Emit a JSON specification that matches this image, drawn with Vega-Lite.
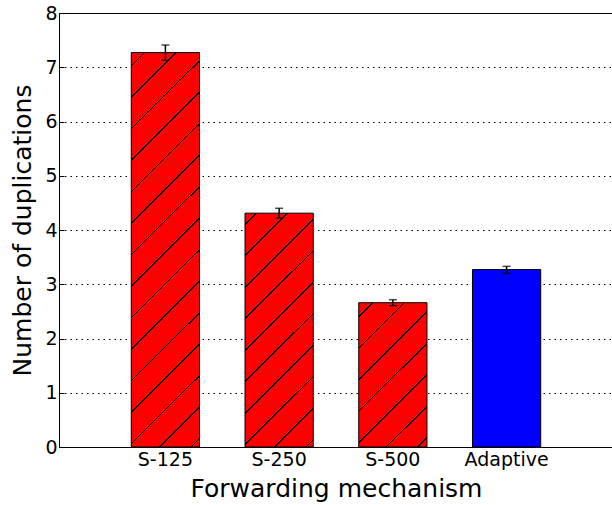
{
  "$schema": "https://vega.github.io/schema/vega-lite/v6.json",
  "width": 554,
  "height": 434,
  "autosize": {"type": "none"},
  "padding": {"left": 59, "top": 13, "right": 0, "bottom": 58},
  "background": "white",
  "config": {
    "font": "DejaVu Sans",
    "view": {"stroke": "black", "strokeWidth": 1},
    "axis": {
      "labelFont": "DejaVu Sans",
      "titleFont": "DejaVu Sans",
      "labelFontSize": 19,
      "titleFontSize": 25,
      "titleFontWeight": "normal",
      "labelColor": "black",
      "titleColor": "black",
      "domain": false,
      "tickColor": "black",
      "tickSize": -5,
      "tickWidth": 1
    }
  },
  "data": {
    "values": [
      {"mechanism": "S-125", "duplications": 7.27, "low": 7.13, "high": 7.41},
      {"mechanism": "S-250", "duplications": 4.31, "low": 4.22, "high": 4.4},
      {"mechanism": "S-500", "duplications": 2.66, "low": 2.605, "high": 2.715},
      {"mechanism": "Adaptive", "duplications": 3.27, "low": 3.2, "high": 3.33}
    ]
  },
  "encoding": {
    "x": {
      "field": "mechanism",
      "type": "nominal",
      "sort": ["S-125", "S-250", "S-500", "Adaptive"],
      "scale": {"paddingInner": 0.4, "paddingOuter": 0.6355},
      "title": "Forwarding mechanism",
      "axis": {"labelAngle": 0, "labelPadding": 8, "titlePadding": 7, "grid": false}
    },
    "y": {
      "field": "duplications",
      "type": "quantitative",
      "scale": {"domain": [0, 8], "nice": false},
      "title": "Number of duplications",
      "axis": {
        "values": [0, 1, 2, 3, 4, 5, 6, 7, 8],
        "grid": true,
        "gridColor": "black",
        "gridDash": [1.5, 4],
        "gridWidth": 1,
        "labelPadding": 7,
        "titlePadding": 9
      }
    }
  },
  "layer": [
    {
      "transform": [{"filter": "datum.mechanism === 'S-125'"}],
      "mark": {
        "type": "bar",
        "stroke": "black",
        "strokeWidth": 1,
        "fill": {
          "gradient": "linear",
          "x1": 0, "y1": 0, "x2": 0.1963, "y2": 1.1386,
          "stops": [
            {"offset": 0, "color": "#ff0000"},
            {"offset": 0.0262, "color": "#ff0000"}, {"offset": 0.0262, "color": "#000000"}, {"offset": 0.03, "color": "#000000"}, {"offset": 0.03, "color": "#ff0000"},
            {"offset": 0.0943, "color": "#ff0000"}, {"offset": 0.0943, "color": "#000000"}, {"offset": 0.0981, "color": "#000000"}, {"offset": 0.0981, "color": "#ff0000"},
            {"offset": 0.1625, "color": "#ff0000"}, {"offset": 0.1625, "color": "#000000"}, {"offset": 0.1663, "color": "#000000"}, {"offset": 0.1663, "color": "#ff0000"},
            {"offset": 0.2306, "color": "#ff0000"}, {"offset": 0.2306, "color": "#000000"}, {"offset": 0.2344, "color": "#000000"}, {"offset": 0.2344, "color": "#ff0000"},
            {"offset": 0.2987, "color": "#ff0000"}, {"offset": 0.2987, "color": "#000000"}, {"offset": 0.3025, "color": "#000000"}, {"offset": 0.3025, "color": "#ff0000"},
            {"offset": 0.3668, "color": "#ff0000"}, {"offset": 0.3668, "color": "#000000"}, {"offset": 0.3706, "color": "#000000"}, {"offset": 0.3706, "color": "#ff0000"},
            {"offset": 0.435, "color": "#ff0000"}, {"offset": 0.435, "color": "#000000"}, {"offset": 0.4388, "color": "#000000"}, {"offset": 0.4388, "color": "#ff0000"},
            {"offset": 0.5031, "color": "#ff0000"}, {"offset": 0.5031, "color": "#000000"}, {"offset": 0.5069, "color": "#000000"}, {"offset": 0.5069, "color": "#ff0000"},
            {"offset": 0.5712, "color": "#ff0000"}, {"offset": 0.5712, "color": "#000000"}, {"offset": 0.575, "color": "#000000"}, {"offset": 0.575, "color": "#ff0000"},
            {"offset": 0.6393, "color": "#ff0000"}, {"offset": 0.6393, "color": "#000000"}, {"offset": 0.6431, "color": "#000000"}, {"offset": 0.6431, "color": "#ff0000"},
            {"offset": 0.7075, "color": "#ff0000"}, {"offset": 0.7075, "color": "#000000"}, {"offset": 0.7113, "color": "#000000"}, {"offset": 0.7113, "color": "#ff0000"},
            {"offset": 0.7756, "color": "#ff0000"}, {"offset": 0.7756, "color": "#000000"}, {"offset": 0.7794, "color": "#000000"}, {"offset": 0.7794, "color": "#ff0000"},
            {"offset": 0.8437, "color": "#ff0000"}, {"offset": 0.8437, "color": "#000000"}, {"offset": 0.8475, "color": "#000000"}, {"offset": 0.8475, "color": "#ff0000"},
            {"offset": 0.9118, "color": "#ff0000"}, {"offset": 0.9118, "color": "#000000"}, {"offset": 0.9156, "color": "#000000"}, {"offset": 0.9156, "color": "#ff0000"},
            {"offset": 0.9799, "color": "#ff0000"}, {"offset": 0.9799, "color": "#000000"}, {"offset": 0.9837, "color": "#000000"}, {"offset": 0.9837, "color": "#ff0000"},
            {"offset": 1, "color": "#ff0000"}
          ]
        }
      }
    },
    {
      "transform": [{"filter": "datum.mechanism === 'S-250'"}],
      "mark": {
        "type": "bar",
        "stroke": "black",
        "strokeWidth": 1,
        "fill": {
          "gradient": "linear",
          "x1": 0, "y1": 0, "x2": 0.3462, "y2": 1.1902,
          "stops": [
            {"offset": 0, "color": "#ff0000"},
            {"offset": 0.0335, "color": "#ff0000"}, {"offset": 0.0335, "color": "#000000"}, {"offset": 0.0394, "color": "#000000"}, {"offset": 0.0394, "color": "#ff0000"},
            {"offset": 0.1379, "color": "#ff0000"}, {"offset": 0.1379, "color": "#000000"}, {"offset": 0.1437, "color": "#000000"}, {"offset": 0.1437, "color": "#ff0000"},
            {"offset": 0.2423, "color": "#ff0000"}, {"offset": 0.2423, "color": "#000000"}, {"offset": 0.2481, "color": "#000000"}, {"offset": 0.2481, "color": "#ff0000"},
            {"offset": 0.3467, "color": "#ff0000"}, {"offset": 0.3467, "color": "#000000"}, {"offset": 0.3525, "color": "#000000"}, {"offset": 0.3525, "color": "#ff0000"},
            {"offset": 0.451, "color": "#ff0000"}, {"offset": 0.451, "color": "#000000"}, {"offset": 0.4569, "color": "#000000"}, {"offset": 0.4569, "color": "#ff0000"},
            {"offset": 0.5554, "color": "#ff0000"}, {"offset": 0.5554, "color": "#000000"}, {"offset": 0.5612, "color": "#000000"}, {"offset": 0.5612, "color": "#ff0000"},
            {"offset": 0.6598, "color": "#ff0000"}, {"offset": 0.6598, "color": "#000000"}, {"offset": 0.6656, "color": "#000000"}, {"offset": 0.6656, "color": "#ff0000"},
            {"offset": 0.7641, "color": "#ff0000"}, {"offset": 0.7641, "color": "#000000"}, {"offset": 0.77, "color": "#000000"}, {"offset": 0.77, "color": "#ff0000"},
            {"offset": 0.8685, "color": "#ff0000"}, {"offset": 0.8685, "color": "#000000"}, {"offset": 0.8744, "color": "#000000"}, {"offset": 0.8744, "color": "#ff0000"},
            {"offset": 0.9729, "color": "#ff0000"}, {"offset": 0.9729, "color": "#000000"}, {"offset": 0.9787, "color": "#000000"}, {"offset": 0.9787, "color": "#ff0000"},
            {"offset": 1, "color": "#ff0000"}
          ]
        }
      }
    },
    {
      "transform": [{"filter": "datum.mechanism === 'S-500'"}],
      "mark": {
        "type": "bar",
        "stroke": "black",
        "strokeWidth": 1,
        "fill": {
          "gradient": "linear",
          "x1": 0, "y1": 0, "x2": 0.5673, "y2": 1.2039,
          "stops": [
            {"offset": 0, "color": "#ff0000"},
            {"offset": 0.0617, "color": "#ff0000"}, {"offset": 0.0617, "color": "#000000"}, {"offset": 0.0701, "color": "#000000"}, {"offset": 0.0701, "color": "#ff0000"},
            {"offset": 0.2101, "color": "#ff0000"}, {"offset": 0.2101, "color": "#000000"}, {"offset": 0.2185, "color": "#000000"}, {"offset": 0.2185, "color": "#ff0000"},
            {"offset": 0.3585, "color": "#ff0000"}, {"offset": 0.3585, "color": "#000000"}, {"offset": 0.3669, "color": "#000000"}, {"offset": 0.3669, "color": "#ff0000"},
            {"offset": 0.5069, "color": "#ff0000"}, {"offset": 0.5069, "color": "#000000"}, {"offset": 0.5153, "color": "#000000"}, {"offset": 0.5153, "color": "#ff0000"},
            {"offset": 0.6552, "color": "#ff0000"}, {"offset": 0.6552, "color": "#000000"}, {"offset": 0.6636, "color": "#000000"}, {"offset": 0.6636, "color": "#ff0000"},
            {"offset": 0.8036, "color": "#ff0000"}, {"offset": 0.8036, "color": "#000000"}, {"offset": 0.812, "color": "#000000"}, {"offset": 0.812, "color": "#ff0000"},
            {"offset": 0.952, "color": "#ff0000"}, {"offset": 0.952, "color": "#000000"}, {"offset": 0.9604, "color": "#000000"}, {"offset": 0.9604, "color": "#ff0000"},
            {"offset": 1, "color": "#ff0000"}
          ]
        }
      }
    },
    {
      "transform": [{"filter": "datum.mechanism === 'Adaptive'"}],
      "mark": {"type": "bar", "stroke": "black", "strokeWidth": 1, "fill": "#0000ff"}
    },
    {
      "mark": {"type": "rule", "color": "black", "strokeWidth": 1.5},
      "encoding": {
        "y": {"field": "low", "type": "quantitative", "title": "Number of duplications"},
        "y2": {"field": "high"}
      }
    },
    {
      "mark": {"type": "tick", "color": "black", "size": 8, "thickness": 1.5},
      "encoding": {
        "y": {"field": "low", "type": "quantitative", "title": "Number of duplications"}
      }
    },
    {
      "mark": {"type": "tick", "color": "black", "size": 8, "thickness": 1.5},
      "encoding": {
        "y": {"field": "high", "type": "quantitative", "title": "Number of duplications"}
      }
    }
  ]
}
